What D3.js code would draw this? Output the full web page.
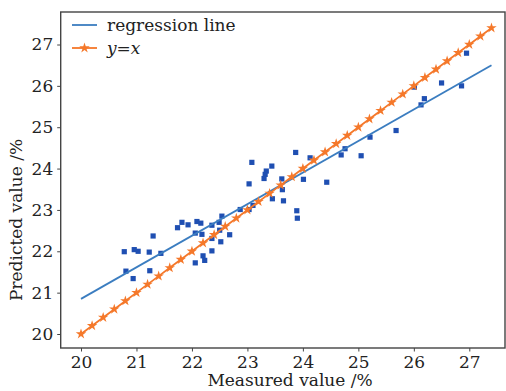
<!DOCTYPE html>
<html><head><meta charset="utf-8">
<script src="https://cdn.jsdelivr.net/npm/d3@7"></script>
<style>body{margin:0;background:#fff;} svg{display:block;} text{font-family:"DejaVu Serif",serif;fill:#222;}</style>
</head><body><svg id="c" width="506" height="391"></svg>
<script>
// measured (x) and predicted (y) values
const measured = [20.78,20.96,21.03,21.23,21.30,21.44,20.81,20.94,21.24,21.74,21.82,21.93,22.09,22.16,22.06,22.18,22.06,22.20,22.23,22.36,22.49,22.54,22.50,22.36,22.36,22.52,22.68,22.87,23.03,23.10,23.03,23.08,23.34,23.32,23.30,23.44,23.62,23.63,23.65,23.45,23.87,23.89,23.90,24.01,24.13,24.43,24.69,24.76,25.05,25.21,25.68,26.01,26.13,26.19,26.50,26.86,26.95];
const predicted = [21.99,22.04,22.00,21.98,22.37,21.95,21.52,21.34,21.53,22.57,22.70,22.64,22.72,22.68,22.44,22.41,21.72,21.89,21.78,22.63,22.70,22.85,22.51,22.31,22.01,22.23,22.40,23.01,23.01,23.11,23.63,24.15,23.94,23.86,23.76,24.06,23.75,23.49,23.22,23.27,24.39,22.98,22.80,23.74,24.26,23.67,24.33,24.48,24.31,24.76,24.92,25.97,25.54,25.69,26.07,26.00,26.79];
// regression line end points
const regX = [20.0, 27.4];
const regY = [20.85, 26.5];
// y = x reference line (marker positions)
const idealX = [20.0,20.2,20.4,20.6,20.8,21.0,21.2,21.4,21.6,21.8,22.0,22.2,22.4,22.6,22.8,23.0,23.2,23.4,23.6,23.8,24.0,24.2,24.4,24.6,24.8,25.0,25.2,25.4,25.6,25.8,26.0,26.2,26.4,26.6,26.8,27.0,27.2,27.4];
const idealY = [20.0,20.2,20.4,20.6,20.8,21.0,21.2,21.4,21.6,21.8,22.0,22.2,22.4,22.6,22.8,23.0,23.2,23.4,23.6,23.8,24.0,24.2,24.4,24.6,24.8,25.0,25.2,25.4,25.6,25.8,26.0,26.2,26.4,26.6,26.8,27.0,27.2,27.4];
const xTicks = [20,21,22,23,24,25,26,27];
const yTicks = [20,21,22,23,24,25,26,27];
const legendLabels = ["regression line", "y=x"];

const svg = d3.select("#c");
const L = 60.7, R = 505, T = 12, B = 348;
const x = d3.scaleLinear().domain([20,27]).range([81,469.3]);
const y = d3.scaleLinear().domain([20,27]).range([334,44.5]);

const blue = "#3b7dc0", orange = "#f5782a", pt = "#1f4fb2";

// scatter
svg.append("g").selectAll("rect").data(measured).join("rect")
  .attr("x",(d,i)=>x(d)-2.6).attr("y",(d,i)=>y(predicted[i])-2.6)
  .attr("width",5.2).attr("height",5.2).attr("fill",pt);

// regression line
svg.append("path").datum(regX.map((d,i)=>[d,regY[i]]))
  .attr("d",d3.line().x(d=>x(d[0])).y(d=>y(d[1])))
  .attr("stroke",blue).attr("stroke-width",1.8).attr("fill","none");

// y = x line
const idealPts = idealX.map((d,i)=>[d,idealY[i]]);
svg.append("path").datum(idealPts)
  .attr("d",d3.line().x(d=>x(d[0])).y(d=>y(d[1])))
  .attr("stroke",orange).attr("stroke-width",1.8).attr("fill","none");
const star = d3.symbol().type(d3.symbolStar).size(34);
svg.append("g").selectAll("path").data(idealPts).join("path")
  .attr("d",star).attr("transform",d=>`translate(${x(d[0])},${y(d[1])})`)
  .attr("fill",orange);

// frame
svg.append("rect").attr("x",L).attr("y",T).attr("width",R-L).attr("height",B-T)
  .attr("fill","none").attr("stroke","#444").attr("stroke-width",1.4);

// axes
const xAxis = svg.append("g").attr("transform",`translate(0,${B})`)
  .call(d3.axisBottom(x).tickValues(xTicks).tickSize(3.5).tickPadding(4).tickFormat(d3.format("d")));
const yAxis = svg.append("g").attr("transform",`translate(${L},0)`)
  .call(d3.axisLeft(y).tickValues(yTicks).tickSize(3.5).tickPadding(4).tickFormat(d3.format("d")));
[xAxis,yAxis].forEach(a=>{
  a.select(".domain").remove();
  a.selectAll(".tick line").attr("stroke","#444").attr("stroke-width",1);
  a.selectAll(".tick text").style("font-family","DejaVu Serif, serif").style("font-size","17px").attr("fill","#222");
});

// axis labels
svg.append("text").attr("x",290).attr("y",386).attr("text-anchor","middle")
  .style("font-size","17px").text("Measured value /%");
svg.append("text").attr("transform","translate(22,220) rotate(-90)").attr("text-anchor","middle")
  .style("font-size","17px").text("Predicted value /%");

// legend
const lg = svg.append("g");
lg.append("line").attr("x1",72).attr("x2",97).attr("y1",25).attr("y2",25).attr("stroke",blue).attr("stroke-width",1.8);
lg.append("text").attr("x",107).attr("y",31).style("font-size","17px").text(legendLabels[0]);
lg.append("line").attr("x1",72).attr("x2",97).attr("y1",48).attr("y2",48).attr("stroke",orange).attr("stroke-width",1.8);
lg.append("path").attr("d",star).attr("transform","translate(84.5,48)").attr("fill",orange);
lg.append("text").attr("x",107).attr("y",54).style("font-size","17px").style("font-style","italic").text(legendLabels[1]);
</script></body></html>
